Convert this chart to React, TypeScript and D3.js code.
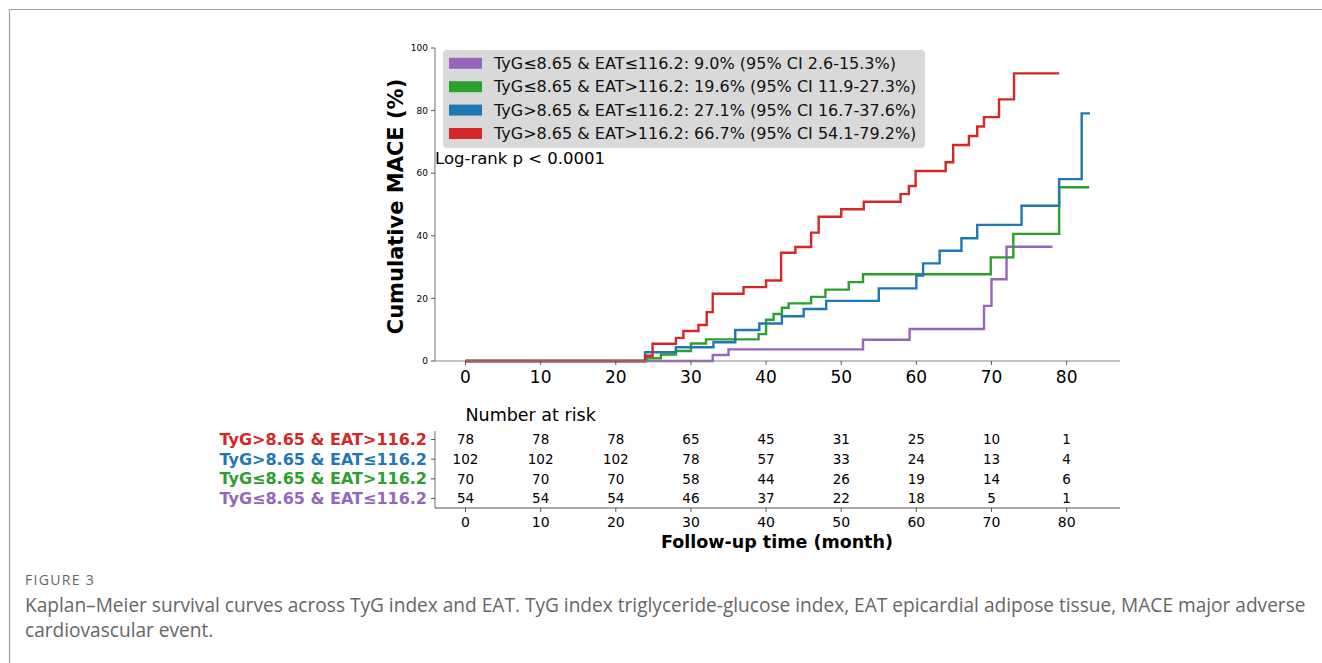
import * as d3 from "d3";

// step points (month, cumulative %)
const redTimes = [0, 23.9, 24.9, 28.0, 29.0, 31.0, 32.1, 32.9, 37.0, 40.0, 42.0, 43.9, 46.0, 47.0, 50.0, 53.0, 57.9, 59.0, 59.9, 63.9, 64.9, 67.0, 68.1, 69.0, 71.0, 73.0, 79.0];
const redVals = [0, 1.7, 5.5, 7.4, 9.6, 11.5, 15.6, 21.5, 23.6, 25.7, 34.6, 36.4, 41.0, 46.1, 48.5, 50.9, 53.3, 55.9, 60.7, 63.5, 69.0, 71.9, 74.9, 77.9, 83.6, 91.9, 91.9];

const blueTimes = [0, 23.9, 28.0, 33.0, 35.9, 39.1, 42.1, 45.0, 48.0, 55.0, 60.0, 60.9, 63.1, 66.0, 68.1, 74.0, 79.0, 82.0, 83.1];
const blueVals = [0, 2.8, 4.4, 6.0, 9.9, 12.0, 14.3, 16.6, 19.2, 23.2, 27.3, 31.2, 35.2, 39.2, 43.5, 49.6, 58.1, 79.1, 79.1];

const greenTimes = [0, 24.1, 26.0, 28.0, 30.0, 32.0, 39.0, 40.0, 41.0, 42.1, 43.0, 46.0, 47.9, 51.0, 52.9, 69.9, 72.9, 79.0, 83.0];
const greenVals = [0, 0.9, 2.1, 3.2, 5.6, 6.9, 8.6, 13.2, 15.0, 17.0, 18.4, 20.5, 22.8, 25.2, 27.7, 33.1, 40.6, 55.5, 55.5];

const purpleTimes = [0, 32.9, 35.0, 52.9, 59.1, 69.0, 70.0, 72.0, 78.1];
const purpleVals = [0, 1.9, 3.7, 6.8, 10.2, 17.6, 26.1, 36.5, 36.5];

const legendLabels = [
  "TyG≤8.65 & EAT≤116.2: 9.0% (95% CI 2.6-15.3%)",
  "TyG≤8.65 & EAT>116.2: 19.6% (95% CI 11.9-27.3%)",
  "TyG>8.65 & EAT≤116.2: 27.1% (95% CI 16.7-37.6%)",
  "TyG>8.65 & EAT>116.2: 66.7% (95% CI 54.1-79.2%)",
];
const legendColors = ["#9467bd", "#2ca02c", "#1f77b4", "#d62728"];

const xTicks = [0, 10, 20, 30, 40, 50, 60, 70, 80];
const yTicks = [0, 20, 40, 60, 80, 100];

const riskGroups = ["TyG>8.65 & EAT>116.2", "TyG>8.65 & EAT≤116.2", "TyG≤8.65 & EAT>116.2", "TyG≤8.65 & EAT≤116.2"];
const riskColors = ["#d62728", "#1f77b4", "#2ca02c", "#9467bd"];
const riskRed = [78, 78, 78, 65, 45, 31, 25, 10, 1];
const riskBlue = [102, 102, 102, 78, 57, 33, 24, 13, 4];
const riskGreen = [70, 70, 70, 58, 44, 26, 19, 14, 6];
const riskPurple = [54, 54, 54, 46, 37, 22, 18, 5, 1];

const captionTitle = "FIGURE 3";
const captionLines = [
  "Kaplan–Meier survival curves across TyG index and EAT. TyG index triglyceride-glucose index, EAT epicardial adipose tissue, MACE major adverse",
  "cardiovascular event.",
];

export default function App() {
  const W = 1322, H = 663;
  const font = "DejaVu Sans";

  const x = d3.scaleLinear().domain([-4.06, 87.1]).range([435, 1120]);
  const y = d3.scaleLinear().domain([0, 100]).range([361, 48]);

  const line = d3.line<[number, number]>()
    .x(d => x(d[0]))
    .y(d => y(d[1]))
    .curve(d3.curveStepAfter);

  const series = [
    {t: purpleTimes, v: purpleVals, c: "#9467bd"},
    {t: greenTimes, v: greenVals, c: "#2ca02c"},
    {t: blueTimes, v: blueVals, c: "#1f77b4"},
    {t: redTimes, v: redVals, c: "#d62728"},
  ];

  // risk table rows
  const riskRows = [riskRed, riskBlue, riskGreen, riskPurple];
  const rowY = d3.scalePoint<number>().domain([0, 1, 2, 3]).range([439.5, 498.5]);
  const tableTop = 431, tableBottom = 508;

  return (
    <svg width={W} height={H} style={{position: "absolute", left: 0, top: 0, background: "#fff"}}>
      {/* page frame */}
      <line x1={9.5} y1={9.5} x2={W} y2={9.5} stroke="#a0a0a0" strokeWidth={1.2}/>
      <line x1={9.5} y1={9.5} x2={9.5} y2={H} stroke="#a0a0a0" strokeWidth={1.2}/>

      {/* curves */}
      {series.map((s, i) => (
        <path key={i} d={line(s.t.map((t, j) => [t, s.v[j]] as [number, number])) || ""}
              fill="none" stroke={s.c} strokeWidth={2.4} strokeLinejoin="miter"/>
      ))}

      {/* axes */}
      <line x1={435} y1={y(100)} x2={435} y2={y(0)} stroke="#888" strokeWidth={1.2}/>
      <line x1={435} y1={y(0)} x2={1120} y2={y(0)} stroke="#888" strokeWidth={1.2}/>
      {yTicks.map(t => (
        <g key={t}>
          <line x1={431} x2={435} y1={y(t)} y2={y(t)} stroke="#333" strokeWidth={0.8}/>
          <text x={428} y={y(t)} dy="0.35em" textAnchor="end" fontFamily={font} fontSize={9}>{t}</text>
        </g>
      ))}
      {xTicks.map(t => (
        <g key={t}>
          <line x1={x(t)} x2={x(t)} y1={y(0)} y2={y(0) + 4} stroke="#333" strokeWidth={0.8}/>
          <text x={x(t)} y={377} dy="0.35em" textAnchor="middle" fontFamily={font} fontSize={17}>{t}</text>
        </g>
      ))}
      <text transform={`translate(403,${(y(0) + y(100)) / 2 + 2}) rotate(-90)`} textAnchor="middle"
            fontFamily={font} fontSize={21} fontWeight="bold">Cumulative MACE (%)</text>

      {/* legend */}
      <rect x={443} y={50} width={482} height={98} rx={4} fill="#d9d9d9"/>
      {legendLabels.map((l, i) => {
        const cy = 63.3 + i * 23.4;
        return (
          <g key={l}>
            <rect x={449} y={cy - 5.5} width={33} height={11} fill={legendColors[i]}/>
            <text x={494} y={cy} dy="0.35em" fontFamily={font} fontSize={16} fill="#111">{l}</text>
          </g>
        );
      })}
      <text x={435} y={164} fontFamily={font} fontSize={16.5}>Log-rank p &lt; 0.0001</text>

      {/* number at risk table */}
      <text x={x(0)} y={415} dy="0.35em" fontFamily={font} fontSize={17.5}>Number at risk</text>
      <line x1={435} y1={tableTop} x2={435} y2={tableBottom} stroke="#888" strokeWidth={1.2}/>
      <line x1={435} y1={tableBottom} x2={1120} y2={tableBottom} stroke="#555" strokeWidth={1}/>
      {riskGroups.map((g, i) => (
        <g key={g}>
          <line x1={431} x2={435} y1={rowY(i)} y2={rowY(i)} stroke="#333" strokeWidth={0.8}/>
          <text x={427} y={rowY(i)} dy="0.35em" textAnchor="end" fontFamily={font} fontSize={16}
                fontWeight="bold" fill={riskColors[i]}>{g}</text>
          {riskRows[i].map((n, j) => (
            <text key={j} x={x(xTicks[j])} y={rowY(i)} dy="0.35em" textAnchor="middle"
                  fontFamily={font} fontSize={13.5}>{n}</text>
          ))}
        </g>
      ))}
      {xTicks.map(t => (
        <g key={t}>
          <line x1={x(t)} x2={x(t)} y1={tableBottom} y2={tableBottom + 4} stroke="#333" strokeWidth={0.8}/>
          <text x={x(t)} y={522.5} dy="0.35em" textAnchor="middle" fontFamily={font} fontSize={14}>{t}</text>
        </g>
      ))}
      <text x={777} y={542} dy="0.35em" textAnchor="middle" fontFamily={font} fontSize={17.5}
            fontWeight="bold">Follow-up time (month)</text>

      {/* caption */}
      <text x={25} y={580} dy="0.35em" fontFamily="Open Sans" fontSize={14} fill="#666"
            letterSpacing={1.3}>{captionTitle}</text>
      {captionLines.map((l, i) => (
        <text key={i} x={25} y={605 + i * 25} dy="0.35em" fontFamily="Open Sans" fontSize={19.1}
              fill="#666">{l}</text>
      ))}
    </svg>
  );
}
